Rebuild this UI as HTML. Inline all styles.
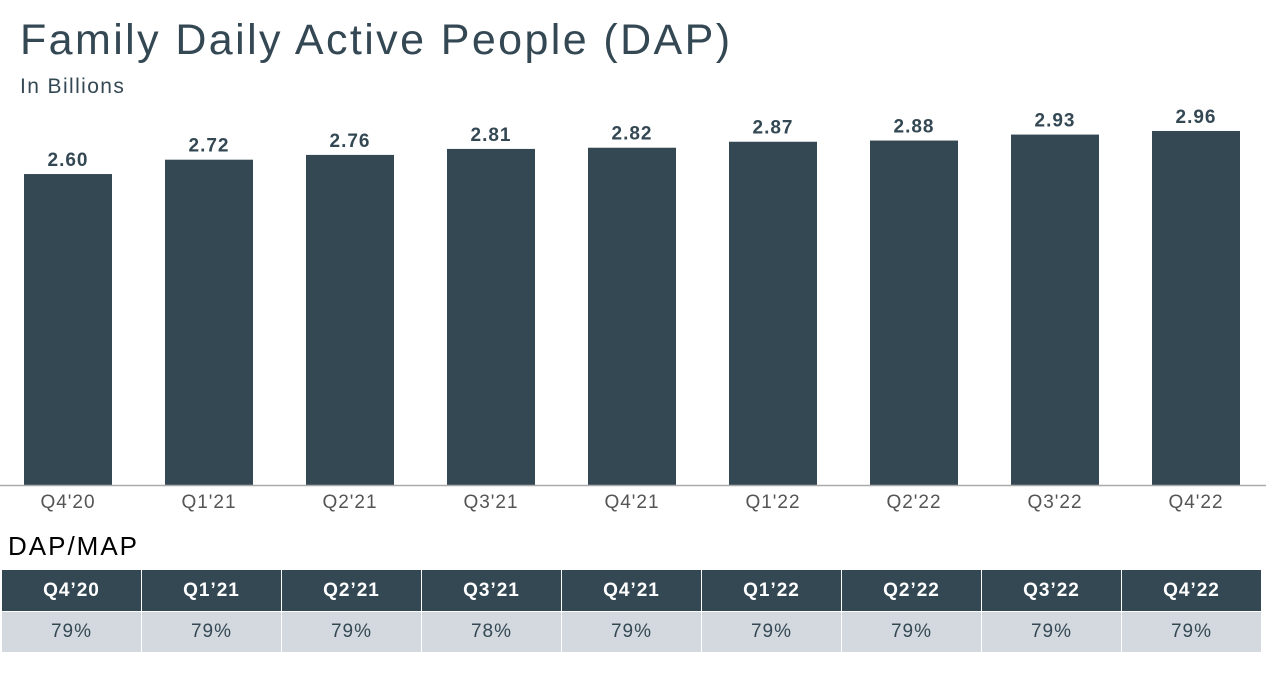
<!DOCTYPE html>
<html><head><meta charset="utf-8"><style>
body{margin:0;width:1274px;height:673px;background:#fff;font-family:"Liberation Sans",sans-serif;position:relative;overflow:hidden}
.t{position:absolute;white-space:nowrap}
</style></head><body>
<div class="t" style="left:20px;top:16px;font-size:43px;color:#344854;letter-spacing:2.4px">Family Daily Active People (DAP)</div>
<div class="t" style="left:20px;top:75px;font-size:21px;color:#344854;letter-spacing:1.4px">In Billions</div>
<svg id="chart" width="1274" height="520" style="position:absolute;left:0;top:0"></svg>
<div class="t" style="left:8px;top:531px;font-size:26px;color:#000;letter-spacing:2px">DAP/MAP</div>
<div id="tbl" style="position:absolute;left:2px;top:570px;width:1261px;height:82px"></div>
<script>
const categories=["Q4'20","Q1'21","Q2'21","Q3'21","Q4'21","Q1'22","Q2'22","Q3'22","Q4'22"];
const values=[2.60,2.72,2.76,2.81,2.82,2.87,2.88,2.93,2.96];
const headerLabels=["Q4’20","Q1’21","Q2’21","Q3’21","Q4’21","Q1’22","Q2’22","Q3’22","Q4’22"];
const ratios=["79%","79%","79%","78%","79%","79%","79%","79%","79%"];
const svg=document.getElementById('chart');const NS='http://www.w3.org/2000/svg';
const base=485,scale=119.6,x0=24,pitch=141,bw=88;
const y=v=>base-v*scale;const x=i=>x0+i*pitch;
function mk(t,a){const e=document.createElementNS(NS,t);for(const k in a)e.setAttribute(k,a[k]);svg.appendChild(e);return e;}
values.forEach((v,i)=>{
const r=mk('rect',{x:x(i),y:y(v),width:bw,height:base-y(v),fill:'#344854'});


const t=mk('text',{x:x(i)+bw/2,y:y(v)-8,'text-anchor':'middle','font-size':'19','font-weight':'bold',fill:'#344854','font-family':'Liberation Sans','letter-spacing':'1'});
t.textContent=v.toFixed(2);


const c=mk('text',{x:x(i)+bw/2,y:508,'text-anchor':'middle','font-size':'19',fill:'#555','font-family':'Liberation Sans','letter-spacing':'1'});
c.textContent=categories[i];


});
const ax=mk('line',{x1:0,x2:1266,y1:485.5,y2:485.5,stroke:'#aaa','stroke-width':1.5});


const tbl=document.getElementById('tbl');
headerLabels.forEach((h,i)=>{
const hd=document.createElement('div');


hd.style.cssText=`position:absolute;left:${i*140}px;top:0;width:139px;height:41px;background:#344854;color:#fff;font-weight:bold;font-size:19px;line-height:41px;text-align:center;letter-spacing:1px`;
hd.textContent=h;tbl.appendChild(hd);
const d=document.createElement('div');


d.style.cssText=`position:absolute;left:${i*140}px;top:42px;width:139px;height:40px;background:#d3d9de;color:#344854;font-size:19px;line-height:40px;text-align:center;letter-spacing:1px`;
d.textContent=ratios[i];tbl.appendChild(d);
});
</script>
</body></html>
